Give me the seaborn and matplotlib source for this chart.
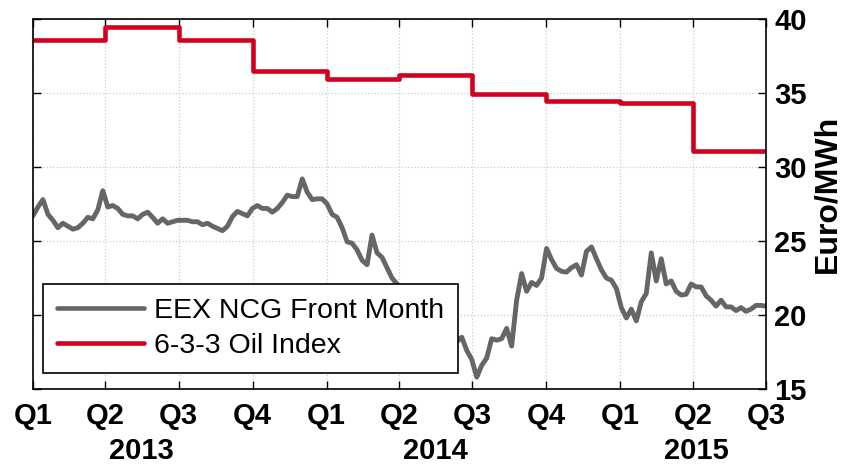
import pandas as pd
import matplotlib
matplotlib.use('Agg')
import matplotlib.pyplot as plt
import seaborn as sns

# EEX NCG front month (roughly every 6 days, Jan 2013 - Jul 2015)
gas_prices = [
    26.7, 27.3, 27.8, 26.8, 26.4, 25.9, 26.2, 26.0, 25.8, 25.9,
    26.2, 26.6, 26.5, 27.1, 28.4, 27.3, 27.4, 27.2, 26.8, 26.7,
    26.7, 26.5, 26.8, 26.95, 26.6, 26.2, 26.5, 26.2, 26.3, 26.4,
    26.4, 26.4, 26.3, 26.3, 26.1, 26.2, 26.0, 25.85, 25.7, 26.0,
    26.65, 27.0, 26.85, 26.7, 27.2, 27.4, 27.2, 27.2, 26.95, 27.2,
    27.6, 28.1, 28.0, 28.0, 29.2, 28.3, 27.8, 27.85, 27.85, 27.5,
    26.8, 26.6, 25.9, 24.95, 24.85, 24.4, 23.7, 23.4, 25.4, 24.2,
    23.9, 23.2, 22.5, 22.1, 21.5, 20.8, 20.2, 19.7, 19.2, 18.9,
    18.6, 18.3, 18.6, 18.0, 17.9, 18.2, 18.5, 17.6, 17.0, 15.8,
    16.6, 17.1, 18.4, 18.3, 18.4, 19.1, 17.9, 21.0, 22.8, 21.6,
    22.2, 22.0, 22.5, 24.5, 23.75, 23.15, 22.95, 22.9, 23.2, 23.4,
    22.7, 24.3, 24.6, 23.8, 23.05, 22.5, 22.35, 21.8, 20.5, 19.8,
    20.4, 19.6, 20.9, 21.45, 24.2, 22.3, 23.8, 22.1, 22.3, 21.6,
    21.35, 21.4, 22.1, 21.9, 21.9, 21.3, 21.0, 20.6, 21.0, 20.55,
    20.55, 20.3, 20.5, 20.25, 20.4, 20.65, 20.65, 20.6,
]

# 6-3-3 oil index, one value per quarter (last value repeated to close the step)
quarter_starts = ['2013-01-01', '2013-04-01', '2013-07-01', '2013-10-01',
                  '2014-01-01', '2014-04-01', '2014-07-01', '2014-10-01',
                  '2015-01-01', '2015-04-01', '2015-07-01']
oil_index = [38.55, 39.45, 38.55, 36.5, 35.95, 36.2, 34.9, 34.48, 34.32, 31.1, 31.1]

quarter_labels = ['Q1', 'Q2', 'Q3', 'Q4', 'Q1', 'Q2', 'Q3', 'Q4', 'Q1', 'Q2', 'Q3']
years = ['2013', '2014', '2015']
year_centers = ['2013-05-16', '2014-05-16', '2015-04-06']

sns.set_theme(style='white')
plt.rcParams['font.family'] = ['Liberation Sans', 'DejaVu Sans']
plt.rcParams['text.color'] = 'black'
plt.rcParams['axes.labelcolor'] = 'black'
plt.rcParams['xtick.color'] = 'black'
plt.rcParams['ytick.color'] = 'black'

gas = pd.DataFrame({
    'date': pd.date_range(quarter_starts[0], quarter_starts[-1], periods=len(gas_prices)),
    'price': gas_prices,
})
oil = pd.DataFrame({'date': pd.to_datetime(quarter_starts), 'price': oil_index})

fig = plt.figure(figsize=(8.52, 4.65), dpi=100)
ax = fig.add_axes([0.0387, 0.1634, 0.8603, 0.7957])

sns.lineplot(data=gas, x='date', y='price', ax=ax, color='#666666', lw=3.5,
             label='EEX NCG Front Month')
sns.lineplot(data=oil, x='date', y='price', ax=ax, color='#D2001E', lw=3.3,
             drawstyle='steps-post', label='6-3-3 Oil Index')

ax.set_xlim(pd.Timestamp(quarter_starts[0]), pd.Timestamp(quarter_starts[-1]))
ax.set_ylim(15, 40)
ax.set_xticks(pd.to_datetime(quarter_starts))
ax.set_xticklabels(quarter_labels)
ax.set_yticks([15, 20, 25, 30, 35, 40])
ax.set_xlabel('')

ax.grid(True, color='#cccccc', linestyle=':', linewidth=0.9)
for s in ax.spines.values():
    s.set_color('black')
    s.set_linewidth(1.2)

ax.tick_params(axis='both', direction='in', length=5.5, width=1.0, color='black',
               labelcolor='black', top=True, bottom=True, left=True, right=True,
               labelleft=False, labelright=True)
ax.tick_params(axis='x', pad=9)
ax.tick_params(axis='y', pad=6)
for lab in ax.get_xticklabels() + ax.get_yticklabels():
    lab.set_fontsize(21)
    lab.set_fontweight('bold')

ax.yaxis.set_label_position('right')
ax.set_ylabel('Euro/MWh', fontsize=23, fontweight='bold', color='black')
ax.yaxis.set_label_coords(1.064, 0.527)

for yr, c in zip(years, year_centers):
    ax.text(pd.Timestamp(c), -0.168, yr, transform=ax.get_xaxis_transform(),
            ha='center', va='center', fontsize=21, fontweight='bold', color='black')

leg = ax.legend(loc='lower left', bbox_to_anchor=(0.0136, 0.043), borderaxespad=0,
                fontsize=20.5, handlelength=3.05, handletextpad=0.35,
                borderpad=0.5, labelspacing=0.3, fancybox=False, framealpha=1)
leg.get_frame().set_edgecolor('black')
leg.get_frame().set_linewidth(1.2)
for line in leg.get_lines():
    line.set_linewidth(3.3)
for t in leg.get_texts():
    t.set_color('black')

fig.savefig('out.png', dpi=100)
